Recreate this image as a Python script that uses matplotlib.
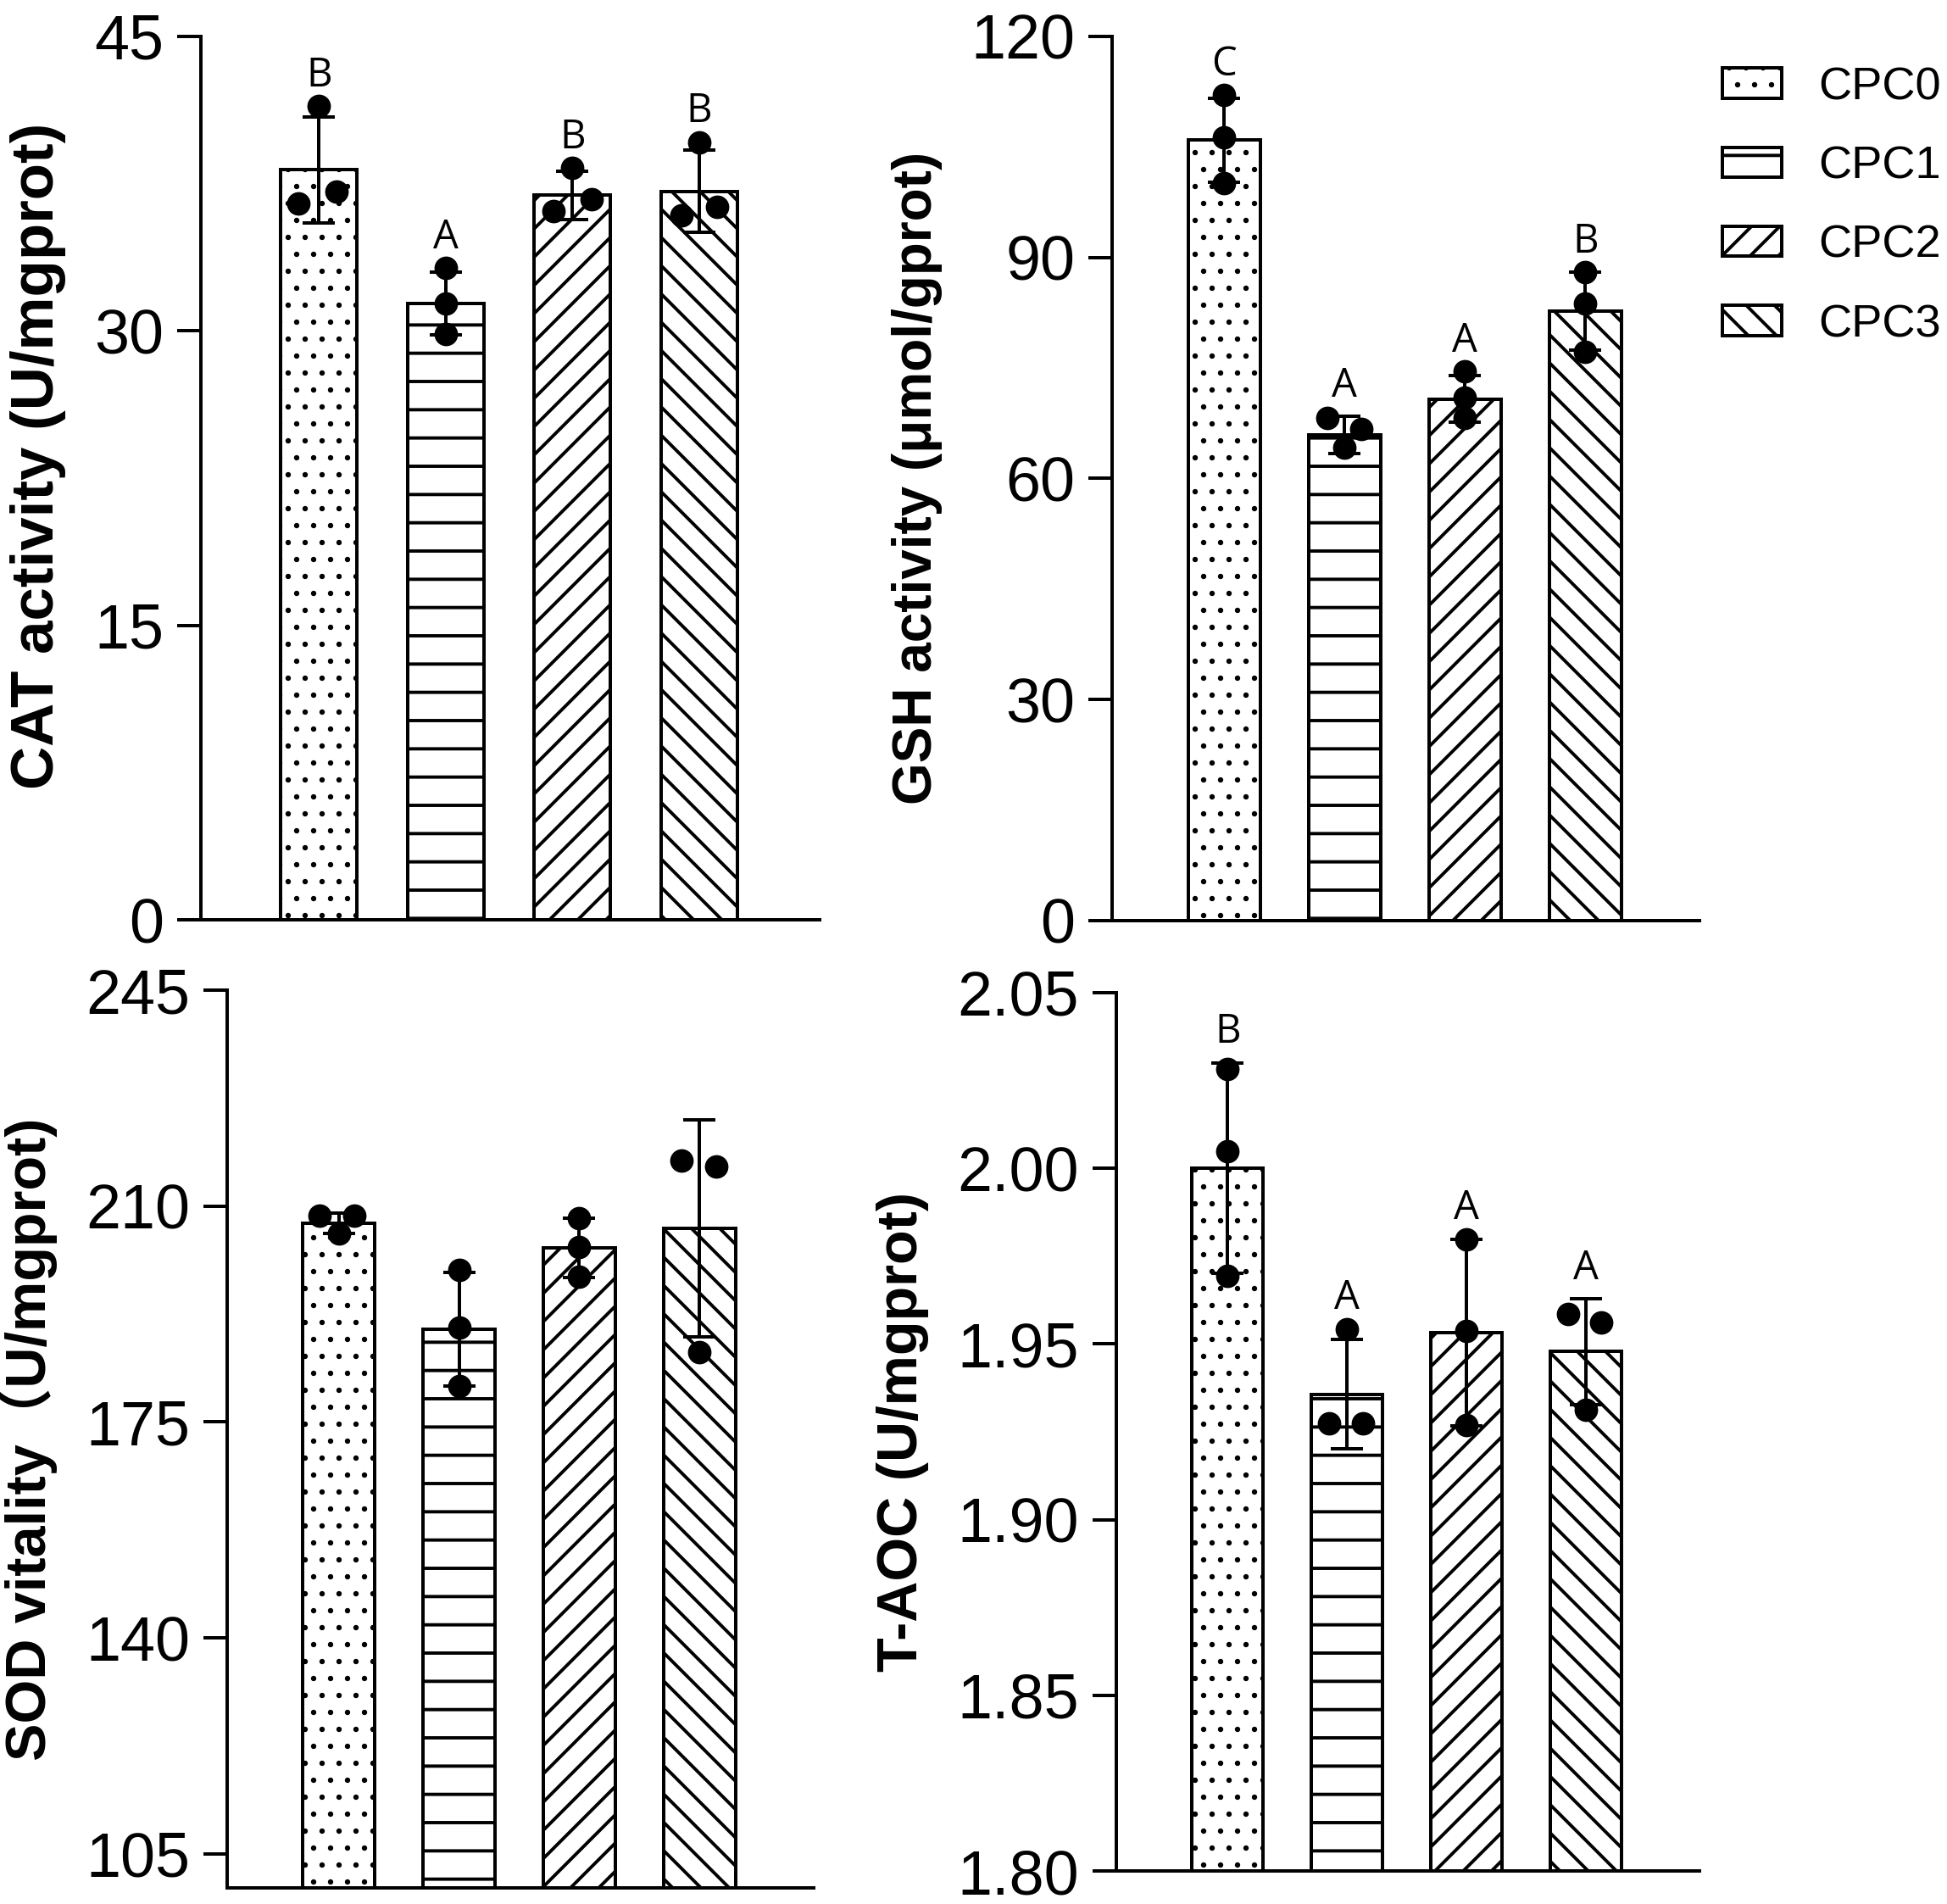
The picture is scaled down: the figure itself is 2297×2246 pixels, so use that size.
import matplotlib
matplotlib.use('Agg')
import matplotlib.pyplot as plt
import matplotlib.hatch as mhatch
from matplotlib.patches import Patch
import numpy as np

# ---------------- data ----------------
groups = ['CPC0', 'CPC1', 'CPC2', 'CPC3']

cat_mean = [38.2, 31.4, 36.9, 37.1]
cat_sd = [2.7, 1.6, 1.25, 2.1]
cat_points = [[41.45, 36.5, 37.1], [33.2, 31.4, 29.85], [38.3, 36.1, 36.7], [39.6, 35.9, 36.3]]
cat_letters = ['B', 'A', 'B', 'B']
cat_ticks = [0, 15, 30, 45]

gsh_mean = [105.9, 65.9, 70.8, 82.7]
gsh_sd = [5.7, 2.5, 3.2, 5.3]
gsh_points = [[112.0, 106.3, 100.1], [68.2, 66.7, 64.2], [74.5, 71.0, 68.2], [88.0, 83.7, 77.2]]
gsh_letters = ['C', 'A', 'A', 'B']
gsh_ticks = [0, 30, 60, 90, 120]

sod_mean = [207.2, 190.1, 203.2, 206.4]
sod_sd = [1.6, 9.2, 4.8, 17.6]
sod_points = [[208.5, 208.5, 205.6], [199.7, 190.3, 180.9], [208.0, 203.4, 198.6], [217.4, 216.4, 186.3]]
sod_letters = ['', '', '', '']
sod_ticks = [105, 140, 175, 210, 245]

taoc_mean = [2.000, 1.9357, 1.9533, 1.9478]
taoc_sd = [0.030, 0.0155, 0.0265, 0.015]
taoc_points = [[2.0283, 2.0048, 1.9695], [1.9543, 1.9273, 1.9273], [1.9797, 1.9538, 1.927], [1.9585, 1.956, 1.9313]]
taoc_letters = ['B', 'A', 'A', 'A']
taoc_ticks = [1.80, 1.85, 1.90, 1.95, 2.00, 2.05]

# ---------------- style ----------------
hatches = ['.', '-', '//', '\\\\']
# horizontal spread of the individual points (style only)
cat_jit = [[0, -0.16, 0.14], [0, 0, 0], [0, -0.15, 0.15], [0, -0.14, 0.14]]
gsh_jit = [[0, 0, 0], [-0.14, 0.14, 0], [0, 0, 0], [0, 0, 0]]
sod_jit = [[-0.16, 0.13, 0], [0, 0, 0], [0, 0, 0], [-0.15, 0.14, 0]]
taoc_jit = [[0, 0, 0], [0, -0.15, 0.13], [0, 0, 0], [-0.15, 0.13, 0]]


class _Dots(mhatch.Circles):
    size = 0.06
    filled = True

    def __init__(self, hatch, density):
        self.num_rows = hatch.count('.') * 10
        super().__init__(hatch, density)


mhatch._hatch_types = [(_Dots if t is mhatch.SmallFilledCircles else t)
                       for t in mhatch._hatch_types]

plt.rcParams['font.family'] = ['Liberation Sans', 'Noto Sans CJK SC', 'DejaVu Sans']
plt.rcParams['hatch.linewidth'] = 1.4
plt.rcParams['hatch.color'] = 'black'

W, H, DPI = 2297, 2246, 200
fig = plt.figure(figsize=(W / DPI, H / DPI), dpi=DPI)

LW = 1.44


def panel(rect, mean, sd, points, jit, letters, ticks, ylim, ylabel, lab_fs, lab_y=0.5, fmt=None):
    ax = fig.add_axes(rect)
    x = np.arange(len(groups))
    ax.bar(x, mean, width=0.6, color='white', edgecolor='black', linewidth=LW,
           hatch=hatches, zorder=2)
    ax.errorbar(x, mean, yerr=sd, fmt='none', ecolor='black', elinewidth=LW,
                capsize=7, capthick=LW, zorder=3)
    for i in range(len(groups)):
        ax.plot(x[i] + np.array(jit[i]), points[i], 'o', color='black', ms=9,
                zorder=4, clip_on=False)
        if letters[i]:
            top = max(mean[i] + sd[i], max(points[i]))
            ax.annotate(letters[i], (x[i], top), xytext=(0, 4.5),
                        textcoords='offset points', ha='center', va='bottom',
                        fontsize=17, family='Open Sans')
    ax.set_xlim(-0.93, 3.95)
    ax.set_ylim(*ylim)
    ax.set_yticks(ticks)
    if fmt:
        ax.set_yticklabels([fmt % t for t in ticks])
    ax.set_xticks([])
    for s in ['top', 'right']:
        ax.spines[s].set_visible(False)
    for s in ['left', 'bottom']:
        ax.spines[s].set_linewidth(LW)
    ax.tick_params(axis='y', length=10, width=LW, labelsize=26.5, pad=5.8)
    ax.set_ylabel(ylabel, fontsize=lab_fs, fontweight='bold', labelpad=12)
    ax.yaxis.label.set_y(lab_y)
    return ax


ax1 = panel([0.1032, 0.5169, 0.3178, 0.4640], cat_mean, cat_sd, cat_points, cat_jit,
            cat_letters, cat_ticks, (0, 45), 'CAT activity (U/mgprot)', 25.5, lab_y=0.525)
ax2 = panel([0.5712, 0.5165, 0.3017, 0.4644], gsh_mean, gsh_sd, gsh_points, gsh_jit,
            gsh_letters, gsh_ticks, (0, 120), 'GSH activity (μmol/gprot)', 23)
ax3 = panel([0.1167, 0.00846, 0.3012, 0.4715], sod_mean, sod_sd, sod_points, sod_jit,
            sod_letters, sod_ticks, (99.5, 245), 'SOD vitality（U/mgprot)', 24)
ax4 = panel([0.5734, 0.01736, 0.2995, 0.4613], taoc_mean, taoc_sd, taoc_points, taoc_jit,
            taoc_letters, taoc_ticks, (1.80, 2.05), 'T-AOC (U/mgprot)', 24, fmt='%.2f')

handles = [Patch(facecolor='white', edgecolor='black', linewidth=LW, hatch=h) for h in hatches]
fig.legend(handles, groups, loc='upper left', bbox_to_anchor=(2032 / W, 1 - 78 / H),
           frameon=False, fontsize=19.5, handlelength=1.3, handleheight=0.63,
           handletextpad=0.8, labelspacing=0.8, borderpad=0, borderaxespad=0)

fig.savefig('out.png', dpi=DPI)
